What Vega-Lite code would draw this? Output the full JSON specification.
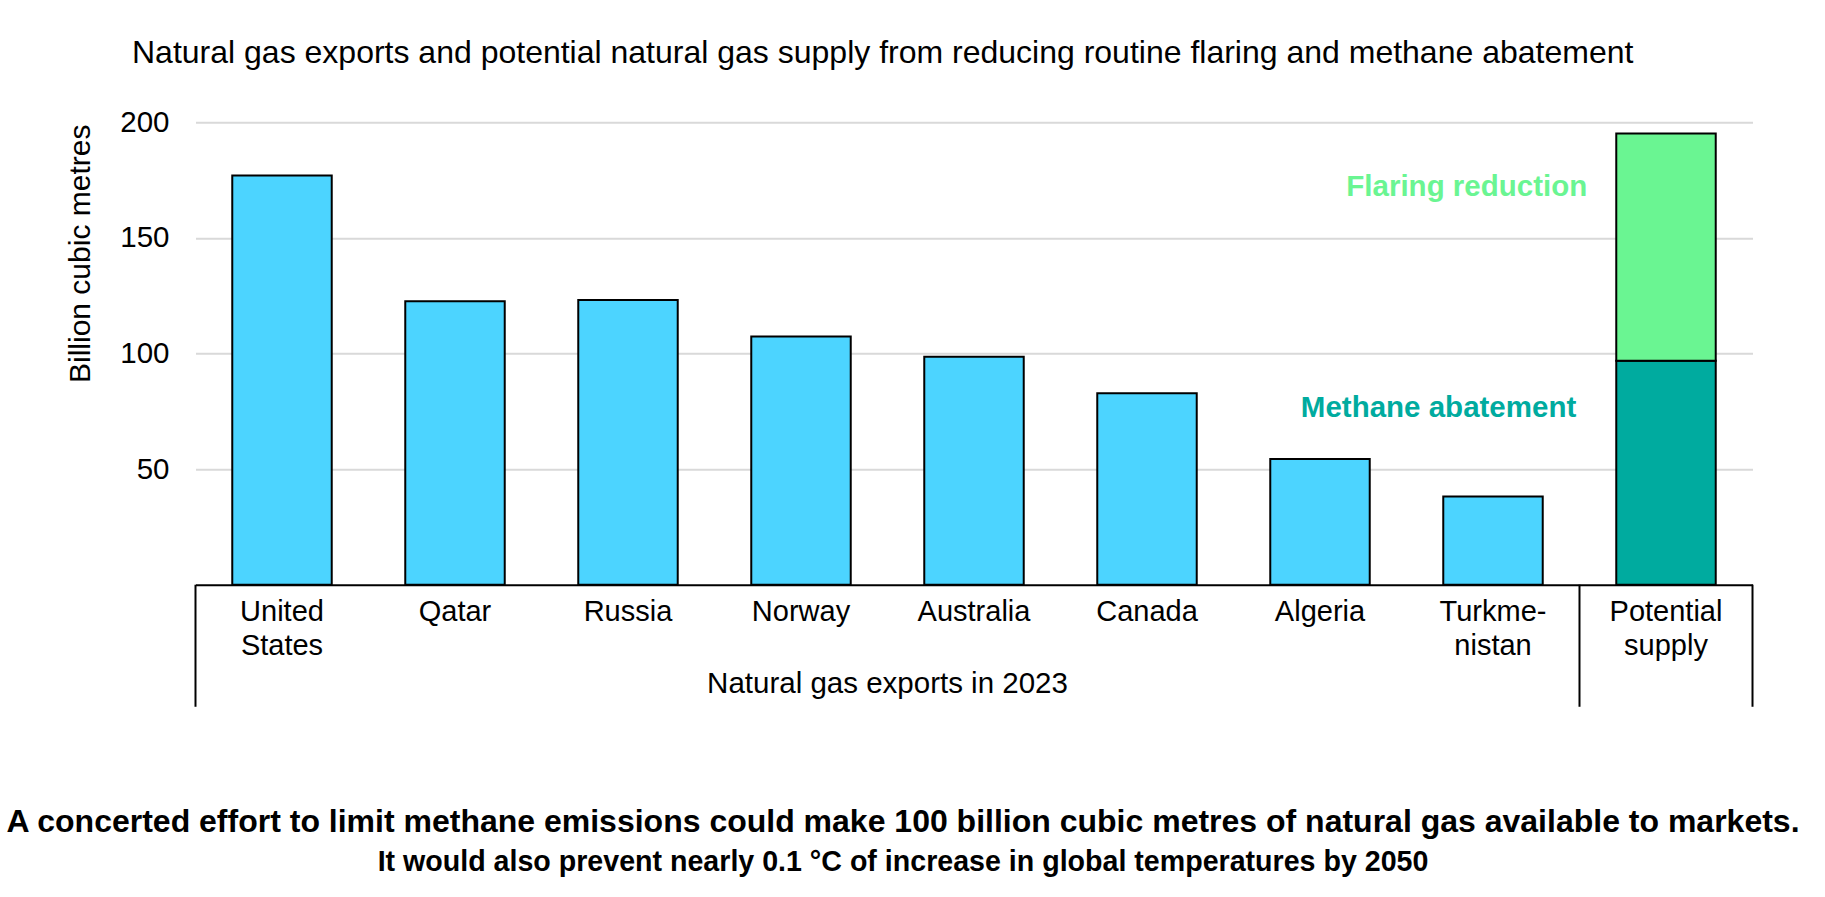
{
  "$schema": "https://vega.github.io/schema/vega-lite/v6.json",
  "autosize": {"type": "none"},
  "width": 1557,
  "height": 462.4,
  "padding": {"left": 195.5, "top": 122.3, "right": 72.5, "bottom": 312.3},
  "background": "white",
  "config": {
    "font": "Liberation Sans",
    "view": {"stroke": null},
    "text": {"font": "Liberation Sans"}
  },
  "title": {
    "text": "Natural gas exports and potential natural gas supply from reducing routine flaring and methane abatement",
    "anchor": "start",
    "frame": "group",
    "dx": -63.5,
    "offset": 12,
    "baseline": "alphabetic",
    "fontSize": 32,
    "fontWeight": "normal",
    "color": "black",
    "font": "Liberation Sans"
  },
  "datasets": {
    "bars": [
      {"category": "United States", "series": "Exports", "value": 177},
      {"category": "Qatar", "series": "Exports", "value": 122.6},
      {"category": "Russia", "series": "Exports", "value": 123.1},
      {"category": "Norway", "series": "Exports", "value": 107.3},
      {"category": "Australia", "series": "Exports", "value": 98.6},
      {"category": "Canada", "series": "Exports", "value": 82.8},
      {"category": "Algeria", "series": "Exports", "value": 54.4},
      {"category": "Turkmenistan", "series": "Exports", "value": 38.1},
      {"category": "Potential supply", "series": "Methane abatement", "value": 96.9},
      {"category": "Potential supply", "series": "Flaring reduction", "value": 98.3}
    ]
  },
  "layer": [
    {
      "data": {"name": "bars"},
      "mark": {"type": "bar", "stroke": "black", "strokeWidth": 2},
      "encoding": {
        "x": {
          "field": "category",
          "type": "nominal",
          "scale": {
            "domain": ["United States", "Qatar", "Russia", "Norway", "Australia", "Canada", "Algeria", "Turkmenistan", "Potential supply"],
            "paddingInner": 0.425,
            "paddingOuter": 0.2125
          },
          "axis": {
            "title": null,
            "domain": true,
            "domainColor": "black",
            "domainWidth": 2,
            "ticks": false,
            "grid": false,
            "labelAngle": 0,
            "labelFontSize": 29,
            "labelColor": "black",
            "labelPadding": 13,
            "labelLineHeight": 33.5,
            "labelExpr": "datum.label == 'Turkmenistan' ? ['Turkme-', 'nistan'] : split(datum.label, ' ')"
          }
        },
        "y": {
          "field": "value",
          "type": "quantitative",
          "stack": "zero",
          "scale": {"domain": [0, 200], "nice": false},
          "axis": {
            "values": [50, 100, 150, 200],
            "domain": false,
            "ticks": false,
            "grid": true,
            "gridColor": "#d9d9d9",
            "gridWidth": 2,
            "labelPadding": 26.5,
            "labelFontSize": 29.5,
            "labelColor": "black",
            "title": "Billion cubic metres",
            "titleFontSize": 30,
            "titleFontWeight": "normal",
            "titleColor": "black",
            "titleAngle": -90,
            "titleAlign": "center",
            "titleBaseline": "middle",
            "titleX": -115.5,
            "titleY": 131
          }
        },
        "color": {
          "field": "series",
          "type": "nominal",
          "scale": {
            "domain": ["Exports", "Methane abatement", "Flaring reduction"],
            "range": ["#4cd4ff", "#00ab9f", "#6af592"]
          },
          "legend": null
        },
        "order": {"field": "series", "sort": "descending"}
      }
    },
    {
      "data": {"values": [{"category": "United States"}, {"category": "Potential supply"}]},
      "mark": {"type": "rule", "color": "black", "strokeWidth": 2},
      "encoding": {
        "x": {"field": "category", "type": "nominal", "bandPosition": -0.3696},
        "y": {"datum": 0},
        "y2": {"datum": -52.8}
      }
    },
    {
      "data": {"values": [{"category": "Potential supply"}]},
      "mark": {"type": "rule", "color": "black", "strokeWidth": 2},
      "encoding": {
        "x": {"field": "category", "type": "nominal", "bandPosition": 1.3696},
        "y": {"datum": 0},
        "y2": {"datum": -52.8}
      }
    },
    {
      "data": {"values": [{"category": "Australia", "label": "Natural gas exports in 2023"}]},
      "mark": {"type": "text", "fontSize": 29.5, "color": "black", "align": "center", "baseline": "alphabetic"},
      "encoding": {
        "x": {"field": "category", "type": "nominal", "bandPosition": -0.3696},
        "y": {"datum": -46.8},
        "text": {"field": "label"}
      }
    },
    {
      "data": {"values": [{"category": "Potential supply", "label": "Flaring reduction"}]},
      "mark": {"type": "text", "fontSize": 29.5, "fontWeight": "bold", "color": "#6af592", "align": "right", "baseline": "alphabetic", "dx": -29},
      "encoding": {
        "x": {"field": "category", "type": "nominal", "bandPosition": 0},
        "y": {"datum": 168.1},
        "text": {"field": "label"}
      }
    },
    {
      "data": {"values": [{"category": "Potential supply", "label": "Methane abatement"}]},
      "mark": {"type": "text", "fontSize": 29.5, "fontWeight": "bold", "color": "#00ab9f", "align": "right", "baseline": "alphabetic", "dx": -40},
      "encoding": {
        "x": {"field": "category", "type": "nominal", "bandPosition": 0},
        "y": {"datum": 72.7},
        "text": {"field": "label"}
      }
    },
    {
      "data": {"values": [{"category": "Australia", "label": "A concerted effort to limit methane emissions could make 100 billion cubic metres of natural gas available to markets."}]},
      "mark": {"type": "text", "fontSize": 32, "fontWeight": "bold", "color": "black", "align": "center", "baseline": "alphabetic", "dx": 15.5},
      "encoding": {
        "x": {"field": "category", "type": "nominal", "bandPosition": -0.3696},
        "y": {"datum": -106.8},
        "text": {"field": "label"}
      }
    },
    {
      "data": {"values": [{"category": "Australia", "label": "It would also prevent nearly 0.1 °C of increase in global temperatures by 2050"}]},
      "mark": {"type": "text", "fontSize": 28.6, "fontWeight": "bold", "color": "black", "align": "center", "baseline": "alphabetic", "dx": 15.5},
      "encoding": {
        "x": {"field": "category", "type": "nominal", "bandPosition": -0.3696},
        "y": {"datum": -123.8},
        "text": {"field": "label"}
      }
    }
  ]
}
